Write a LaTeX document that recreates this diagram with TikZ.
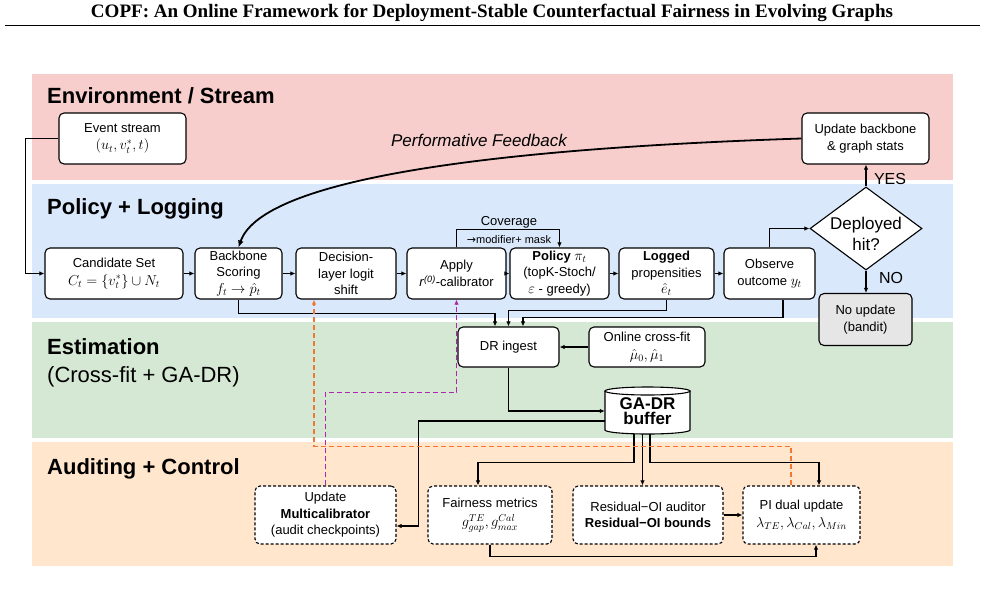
\documentclass[tikz,border=0pt]{standalone}
\usepackage{fontspec}
\usepackage{graphicx}
\setmainfont{Liberation Sans}
\newfontfamily\titlefont{Liberation Serif}
\newfontfamily\dejavu{DejaVu Sans}
\usetikzlibrary{arrows.meta,calc,shapes.geometric}
\definecolor{bandpink}{HTML}{F8CECC}
\definecolor{bandblue}{HTML}{DAE8FC}
\definecolor{bandgreen}{HTML}{D5E8D4}
\definecolor{bandpeach}{HTML}{FFE6CC}
\definecolor{nogray}{HTML}{E6E6E6}
\definecolor{orangedash}{RGB}{240,120,50}
\definecolor{purpdash}{RGB}{170,40,170}
\newcommand{\mm}[1]{{\fontsize{14.5}{16}\selectfont$#1$}}
\begin{document}
\begin{tikzpicture}[x=1pt,y=-1pt,
  box/.style={draw, line width=1.1pt, rounded corners=5pt, fill=white, align=center,
    font=\fontsize{13}{16.5}\selectfont, inner sep=0pt},
  dbox/.style={box, dash pattern=on 3pt off 2pt},
  arr/.style={line width=1.1pt, -{Latex[length=5pt,width=4.5pt]}},
  bandlabel/.style={anchor=west, font=\bfseries\fontsize{22}{26}\selectfont, inner sep=0pt},
  odash/.style={draw=orangedash, line width=1.1pt, dash pattern=on 5pt off 3pt, -{Latex[length=5pt,width=4.5pt]}, color=orangedash},
  pdash/.style={draw=purpdash, line width=1.1pt, dash pattern=on 5pt off 3pt, -{Latex[length=5pt,width=4.5pt]}, color=purpdash}
]
\useasboundingbox (0,0) rectangle (985,608);
\fill[white] (0,0) rectangle (985,608);

% title
\node[inner sep=0pt] (title) at (492,13) {\resizebox{802pt}{!}{\titlefont\bfseries COPF: An Online Framework for Deployment-Stable Counterfactual Fairness in Evolving Graphs}};
\draw[line width=1.8pt] (5,25.5) -- (980,25.5);

% bands
\fill[bandpink] (32,74) rectangle (953,180);
\fill[bandblue] (32,184) rectangle (953,318);
\fill[bandgreen] (32,322) rectangle (953,438);
\fill[bandpeach] (32,442) rectangle (953,566);

\node[bandlabel] (lenv) at (47,96) {Environment / Stream};
\node[bandlabel] (lpol) at (47,209) {Policy + Logging};
\node[bandlabel] (lest) at (47,347) {Estimation};
\node[bandlabel, font=\fontsize{22}{26}\selectfont] (lest2) at (47,377) {(Cross-fit + GA-DR)};
\node[bandlabel] (laud) at (47,469) {Auditing + Control};

% nodes
\node[box, minimum width=127pt, minimum height=51pt] (ev) at (122.5,138.5) {Event stream\\[1pt]\mm{(u_t, v_t^*, t)}};
\node[box, minimum width=127pt, minimum height=51pt] (upd) at (865.5,138.5) {Update backbone\\\& graph stats};
\node[box, minimum width=138pt, minimum height=51pt] (cand) at (114,273.5) {Candidate Set\\[1pt]\mm{C_t=\{v_t^*\}\cup N_t}};
\node[box, minimum width=87pt, minimum height=51pt] (bb) at (238.5,273.5) {Backbone\\Scoring\\\mm{f_t\to\hat p_t}};
\node[box, minimum width=100pt, minimum height=51pt] (dec) at (346,273.5) {Decision-\\layer logit\\shift};
\node[box, minimum width=99pt, minimum height=51pt] (app) at (456.5,273.5) {Apply\\\textit{r}\textsuperscript{\textit{(0)}}-calibrator};
\node[box, minimum width=99pt, minimum height=51pt] (pol) at (559.5,273.5) {\textbf{Policy} \mm{\pi_t}\\(topK-Stoch/\\\mm{\varepsilon} - greedy)};
\node[box, minimum width=95pt, minimum height=51pt] (log) at (666.5,273.5) {\textbf{Logged}\\propensities\\\mm{\hat e_t}};
\node[box, minimum width=91pt, minimum height=51pt] (obs) at (769.5,273.5) {Observe\\outcome \mm{y_t}};
\node[diamond, draw, line width=1.1pt, fill=white, minimum width=112pt, minimum height=83pt, inner sep=0pt,
  label={[font=\fontsize{17}{21}\selectfont, align=center, yshift=-5pt]center:Deployed\\hit?}] (dia) at (866,228.5) {};
\node[box, fill=nogray, minimum width=93pt, minimum height=52pt] (nou) at (865.5,319.5) {No update\\(bandit)};
\node[box, minimum width=101pt, minimum height=40pt] (dr) at (508.5,347) {DR ingest};
\node[box, minimum width=116pt, minimum height=40pt] (ocf) at (647,347) {Online cross-fit\\[1pt]\mm{\hat\mu_0,\hat\mu_1}};

% cylinder buffer
\draw[line width=1.1pt, fill=white] (605,391) -- (605,430) arc[start angle=180, end angle=360, x radius=42.5pt, y radius=4pt] -- (690,391);
\draw[line width=1.1pt, fill=white] (647.5,391) ellipse[x radius=42.5pt, y radius=4pt];
\node[inner sep=0pt, minimum width=85pt, minimum height=46pt, align=center,
  font=\bfseries\fontsize{17}{21}\selectfont] (buf) at (647.5,411) {\raisebox{-3pt}{\shortstack{GA-DR\\[-1pt]buffer}}};

\node[dbox, minimum width=141pt, minimum height=58pt] (mc) at (325.5,515) {Update\\\textbf{Multicalibrator}\\(audit checkpoints)};
\node[dbox, minimum width=124pt, minimum height=58pt] (fair) at (490,515) {Fairness metrics\\[3pt]\mm{g^{TE}_{gap}, g^{Cal}_{max}}};
\node[dbox, minimum width=150pt, minimum height=58pt] (res) at (648,515) {Residual−OI auditor\\\textbf{Residual−OI bounds}};
\node[dbox, minimum width=117pt, minimum height=58pt] (pi) at (801.5,515) {PI dual update\\[1pt]\mm{\lambda_{TE},\lambda_{Cal},\lambda_{Min}}};

% labels
\node[font=\fontsize{16}{19}\selectfont, inner sep=0pt] (yes) at (890,179) {YES};
\node[font=\fontsize{16}{19}\selectfont, inner sep=0pt] (no) at (891,278) {NO};
\node[font=\itshape\fontsize{17}{20}\selectfont, inner sep=0pt] (pf) at (479,140) {Performative Feedback};
\node[font=\fontsize{13}{15}\selectfont, inner sep=0pt] (cov) at (509,222) {Coverage};
\node[font=\fontsize{11}{13}\selectfont, inner sep=0pt] (mod) at (509,239.5) {{\dejavu →}modifier+ mask};

% connectors
\draw[arr] (ev.west) -- ++(-33,0) |- (cand.west);
\draw[arr] (cand.east) -- (bb.west);
\draw[arr] (bb.east) -- (dec.west);
\draw[arr] (dec.east) -- (app.west);
\draw[arr] (app.east) -- (pol.west);
\draw[arr] (pol.east) -- (log.west);
\draw[arr] (log.east) -- (obs.west);
\draw[arr] (obs.north) |- (dia.west);
\draw[arr] (dia.north) -- (dia.north |- upd.south);
\draw[arr] (dia.south) -- (dia.south |- nou.north);
\draw[line width=1.8pt, -{Latex[length=7pt,width=6pt]}] (upd.west) .. controls (450,150) and (260,185) .. (bb.north);
\draw[arr] (app.north) -- ++(0,-18) -| (pol.north);

\draw[arr] (bb.south) -- ++(0,14) -| ($(dr.north)+(-13.5,0)$);
\draw[arr] (log.south) -- ++(0,11) -| (dr.north);
\draw[arr] ($(obs.south)+(13.5,0)$) -- ++(0,18) -| ($(dr.north)+(14.5,0)$);
\draw[arr] (ocf.west) -- (dr.east);
\draw[arr] (dr.south) |- (buf.west);

\draw[arr] ($(buf.west)+(0,10)$) -| ($(mc.east)+(22,11)$) -- ($(mc.east)+(0,11)$);
\draw[arr] ($(buf.south)+(-13.5,0)$) -- ++(0,28) -| ($(fair.north)+(-12,0)$);
\draw[arr] ($(buf.south)+(-5,0)$) -- ($(res.north)+(-5.5,0)$);
\draw[arr] ($(buf.south)+(2.5,0)$) -- ++(0,28) -| ($(pi.north)+(17.5,0)$);
\draw[arr] (res.east) -- (pi.west);
\draw[arr] (fair.south) -- ++(0,12) -| ($(pi.south)+(14.5,0)$);

\draw[odash] ($(pi.north)+(-10.5,0)$) -- ++(0,-39) -| ($(dec.south)+(-32,0)$);
\draw[pdash] (mc.north) -- ++(0,-93) -| (app.south);
\end{tikzpicture}
\end{document}
